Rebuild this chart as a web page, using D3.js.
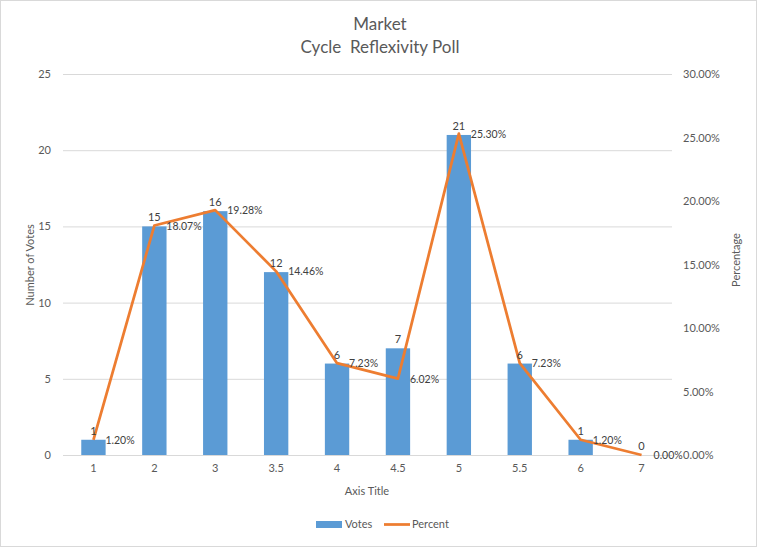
<!DOCTYPE html>
<html><head><meta charset="utf-8">
<script src="https://cdn.jsdelivr.net/npm/d3@7"></script>
<style>body{margin:0;background:#fff}text{font-family:Lato,"Open Sans",sans-serif}</style>
</head><body><svg id="c" width="758" height="549"></svg>
<script>
const categories = ["1","2","3","3.5","4","4.5","5","5.5","6","7"];
const votes = [1,15,16,12,6,7,21,6,1,0];
const percent = [1.20,18.07,19.28,14.46,7.23,6.02,25.30,7.23,1.20,0.00];
const leftTicks = [0,5,10,15,20,25];
const rightTicks = [0,5,10,15,20,25,30];

const svg = d3.select("#c");
const W=758,H=549;
const L=63,R=672,T=74,B=455;
svg.append("rect").attr("x",0.5).attr("y",0.5).attr("width",W-2).attr("height",H-3).attr("fill","#fff").attr("stroke","#d9d9d9");

const x = d3.scaleBand().domain(categories).range([L,R]).paddingInner(0.6).paddingOuter(0.3);
const xc = d => x(d)+x.bandwidth()/2;
const y = d3.scaleLinear().domain([0,25]).range([B,T]);
const y2 = d3.scaleLinear().domain([0,30]).range([B,T]);

// gridlines
svg.append("g").selectAll("line").data(leftTicks).join("line")
 .attr("x1",L).attr("x2",R).attr("y1",d=>y(d)+0.5).attr("y2",d=>y(d)+0.5)
 .attr("stroke","#d9d9d9").attr("stroke-width",1);

// left axis
const ya = d3.axisLeft(y).tickValues(leftTicks).tickSize(0).tickPadding(12);
const gl = svg.append("g").attr("transform",`translate(${L},0)`).call(ya);
gl.select(".domain").remove();
gl.selectAll("text").attr("fill","#595959").style("font-size","11px");

// right axis
const ya2 = d3.axisRight(y2).tickValues(rightTicks).tickSize(0).tickPadding(11).tickFormat(d=>d.toFixed(2)+"%");
const gr = svg.append("g").attr("transform",`translate(${R},0)`).call(ya2);
gr.select(".domain").remove();
gr.selectAll("text").attr("fill","#595959").style("font-size","11px");

// bottom axis
const xa = d3.axisBottom(x).tickSize(0).tickPadding(9);
const gb = svg.append("g").attr("transform",`translate(0,${B})`).call(xa);
gb.select(".domain").remove();
gb.selectAll("text").attr("fill","#595959").style("font-size","11px");

// bars
svg.append("g").selectAll("rect").data(votes).join("rect")
 .attr("x",(d,i)=>x(categories[i])).attr("width",x.bandwidth())
 .attr("y",d=>y(d)).attr("height",d=>B-y(d)).attr("fill","#5b9bd5");

// line
const line = d3.line().x((d,i)=>xc(categories[i])).y(d=>y2(d));
svg.append("path").datum(percent).attr("d",line).attr("fill","none")
 .attr("stroke","#ed7d31").attr("stroke-width",2.75).attr("stroke-linejoin","round");

// vote labels
svg.append("g").selectAll("text").data(votes).join("text")
 .attr("x",(d,i)=>xc(categories[i])).attr("y",d=>y(d)-5)
 .attr("text-anchor","middle").attr("fill","#404040").style("font-size","11px").text(d=>d);

// percent labels
svg.append("g").selectAll("text").data(percent).join("text")
 .attr("x",(d,i)=>xc(categories[i])+12).attr("y",d=>y2(d)+4)
 .attr("fill","#404040").style("font-size","10.5px").text(d=>d.toFixed(2)+"%");

// titles
svg.append("text").attr("x",380).attr("y",30).attr("text-anchor","middle").attr("fill","#595959").style("font-size","17px").text("Market");
svg.append("text").attr("x",380).attr("y",53).attr("text-anchor","middle").attr("fill","#595959").style("font-size","17px").style("white-space","pre").text("Cycle  Reflexivity Poll");
svg.append("text").attr("transform","translate(34,265) rotate(-90)").attr("text-anchor","middle").attr("fill","#595959").style("font-size","11px").text("Number of Votes");
svg.append("text").attr("transform","translate(740,260) rotate(-90)").attr("text-anchor","middle").attr("fill","#595959").style("font-size","11px").text("Percentage");
svg.append("text").attr("x",367).attr("y",495).attr("text-anchor","middle").attr("fill","#595959").style("font-size","11px").text("Axis Title");

// legend
const lg = svg.append("g");
lg.append("rect").attr("x",316).attr("y",521).attr("width",26).attr("height",7).attr("fill","#5b9bd5");
lg.append("text").attr("x",345).attr("y",528).attr("fill","#595959").style("font-size","11px").text("Votes");
lg.append("line").attr("x1",384).attr("x2",410).attr("y1",524.5).attr("y2",524.5).attr("stroke","#ed7d31").attr("stroke-width",2.75);
lg.append("text").attr("x",412).attr("y",528).attr("fill","#595959").style("font-size","11px").text("Percent");
</script></body></html>
